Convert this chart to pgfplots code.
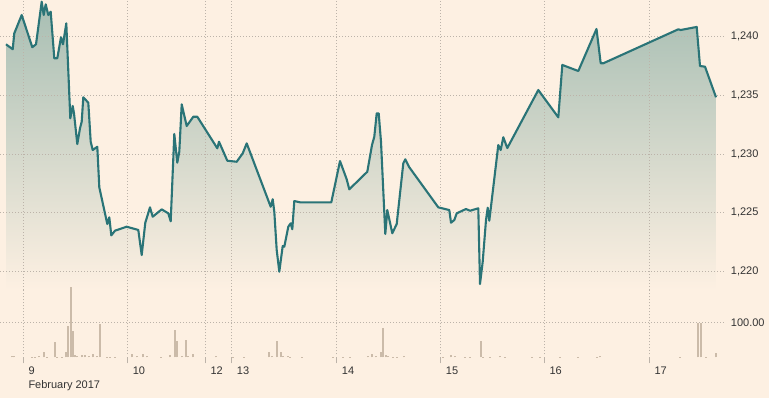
\documentclass[border=0pt]{standalone}
\usepackage{pgfplots}
\pgfplotsset{compat=1.18}
\usepackage{pgfplotstable}
\usepackage{fontspec}
\setmainfont{Liberation Sans}
\definecolor{bgcol}{HTML}{FDF0E2}
\definecolor{gridcol}{HTML}{BCB3A9}
\definecolor{linecol}{HTML}{2A7477}
\definecolor{filltop}{HTML}{A7BEB3}
\definecolor{barcol}{HTML}{CBBBA9}
\definecolor{txtcol}{HTML}{333333}

\pgfplotstableread{
x y
6 1239.35
12.7 1238.93
14.3 1240.29
21.7 1241.85
32.3 1239.10
36 1239.35
41.7 1242.99
43.7 1241.85
45.7 1242.76
48.3 1241.85
50.7 1242.13
54.3 1238.16
57.3 1238.16
61 1239.95
63 1239.35
66.3 1241.14
70.3 1233.04
72.7 1234.09
74 1233.46
77.3 1230.84
80 1232.18
81.7 1232.75
83.3 1234.83
88.3 1234.37
90.7 1231.04
92.7 1230.33
97.3 1230.61
99.3 1227.15
107.3 1224.02
109.3 1224.59
111.3 1223.05
115 1223.45
126.7 1223.79
138.3 1223.51
141.7 1221.37
145.3 1224.13
150 1225.44
152.7 1224.64
161.7 1225.27
168.3 1224.93
170.7 1224.25
174.3 1231.70
177.3 1229.25
179.3 1230.19
181.7 1234.23
186.7 1232.38
193.3 1233.17
197.3 1233.17
217.3 1230.48
219 1231.04
227.3 1229.42
236.7 1229.33
242.7 1230.05
246.7 1230.90
270.7 1225.49
272.7 1226.13
274.3 1225.07
276.7 1221.80
279.3 1219.95
282.7 1222.14
284.3 1222.08
288.3 1223.79
290.7 1224.08
292.3 1223.57
294.3 1225.98
300 1225.87
331.3 1225.87
340 1229.39
346.7 1227.83
349.3 1226.98
367.3 1228.48
372 1230.76
374.3 1231.47
376.7 1233.46
378.7 1233.46
381 1231.04
385.3 1223.17
387.3 1225.21
392.3 1223.23
396.7 1224.02
403.3 1229.20
405.3 1229.54
409.3 1228.86
438.3 1225.44
449.3 1225.21
451 1224.13
454.3 1224.36
456.7 1224.93
466 1225.30
470 1225.15
478.3 1225.36
480 1218.90
482.7 1220.80
486 1224.36
487.7 1225.41
489.3 1224.30
498.3 1230.76
500.7 1230.33
503.3 1231.42
507.3 1230.50
538.3 1235.45
558.3 1233.12
562.3 1237.59
578.3 1237.07
596.5 1240.66
600.7 1237.73
603.3 1237.73
678.3 1240.63
680.7 1240.57
696.7 1240.83
700 1237.50
705 1237.44
716 1234.83
}\price

\pgfplotstableread{
x v
11.7 3
14 3
32 2
35 2
39.3 3
43.7 16
47 2
54.7 44
57 2
62 2
66 15
68 90
70.7 202
72.7 75
74.7 6
77.3 4
81.7 7
85 7
89 4
93.3 10
96.7 4
100 95
107 2
110 2
115 2
132 10
137 3
142.7 10
147 3
161 2
170 6
175 78
176.7 47
181.7 3
185.7 50
188.3 3
192.7 10
216 3
233 2
244 2
269.3 16
271.7 4
276.7 47
280.7 15
283.3 3
288.3 3
289.7 2
301.7 2
332.7 2
343.3 2
350 2
368.3 3
371.7 10
376 3
381 15
383 83
386 6
388.3 3
393.3 2
396.7 2
404 3
442.7 2
451 6
455 3
465 2
470 2
480.7 47
483.3 2
490 2
500 3
505 2
532 2
540 2
560 2
578 2
597 2
600 3
680 2
698.3 99
700.7 99
706 2
716 11
}\volume

\pgfplotsset{ftbase/.style={
  scale only axis, width=725bp, xmin=0, xmax=725,
  axis line style={draw=none},
  grid=major,
  grid style={gridcol, line width=0.8bp, dash pattern=on 0.8bp off 2.2bp},
  ticklabel style={font=\fontsize{11bp}{13bp}\selectfont, text=txtcol},
  /pgf/number format/assume math mode=true,
  xtick={23.3,127.6,205.3,231.7,336.7,440.7,544.3,649.3},
  yticklabel pos=right,
  yticklabel style={anchor=west, inner sep=0pt, xshift=5.7bp},
  ytick style={draw=none},
}}

\begin{document}
\begin{tikzpicture}
\fill[bgcol] (0,0) rectangle (769bp,398bp);

\begin{axis}[ftbase,
  at={(0bp,108bp)}, anchor=south west,
  height=290bp,
  ymin=1218.39, ymax=1243.13,
  xticklabels={},
  xtick style={draw=none},
  ytick={1220,1225,1230,1235,1240},
  /pgf/number format/1000 sep={,},
  set layers, axis on top,
]
\addplot[draw=none, top color=filltop, bottom color=bgcol, forget plot]
  table[x=x,y=y] {\price} |- (axis cs:6,1218.39) -- cycle;
\addplot[on layer=axis foreground, linecol, line width=2.1bp, line join=round, no marks]
  table[x=x,y=y] {\price};
\end{axis}

\begin{axis}[ftbase,
  at={(0bp,40.7bp)}, anchor=south west,
  height=67.3bp,
  ymin=0, ymax=192.29,
  clip=false,
  ytick={100}, yticklabels={100.00},
  xticklabels={9,10,12,13,14,15,16,17},
  xtick pos=left, xtick align=outside,
  major tick length=6bp,
  xtick style={draw=gridcol, line width=0.8bp},
  xticklabel style={anchor=north west, inner sep=0pt, xshift=5bp, yshift=-3.2bp},
]
\addplot[ycomb, no marks, barcol, line width=1.8bp] table[x=x,y=v] {\volume};
\node[anchor=north west, inner sep=0pt, font=\fontsize{11bp}{13bp}\selectfont, text=txtcol]
  at (axis cs:23.3,0) [xshift=5bp, yshift=-22.7bp] {February 2017};
\end{axis}
\pgfresetboundingbox
\path[use as bounding box] (0,0) rectangle (769bp,398bp);
\end{tikzpicture}
\end{document}
